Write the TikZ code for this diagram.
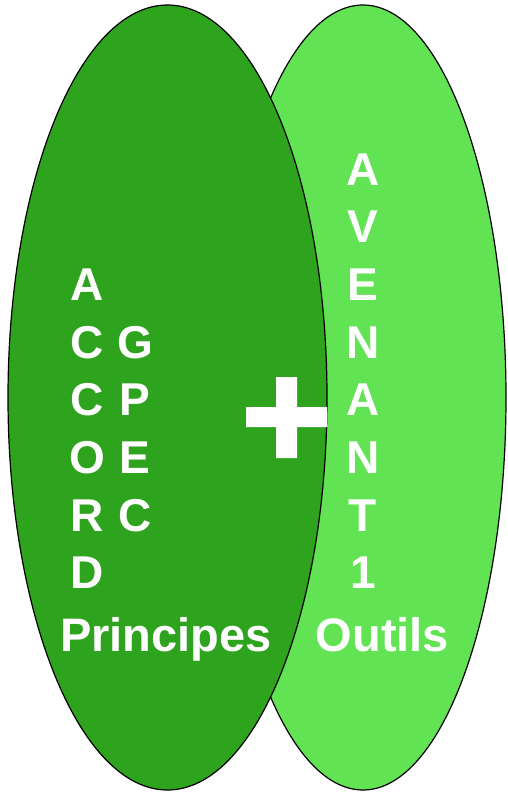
\documentclass[tikz,border=0pt]{standalone}
\usepackage{fontspec}
\setmainfont{Liberation Sans}
\definecolor{darkg}{RGB}{46,163,30}
\definecolor{lightg}{RGB}{98,227,84}
\begin{document}
\begin{tikzpicture}[x=1pt,y=-1pt,
  lett/.style={text=white,font=\bfseries\fontsize{46}{46}\selectfont,anchor=base,inner sep=0pt},
  lab/.style={lett,font=\bfseries\fontsize{47}{47}\selectfont},
  ell/.style={draw=black,line width=1.2pt}]
\useasboundingbox (0,0) rectangle (508,793);
\path[ell,fill=lightg] (363,397.5) ellipse [x radius=143, y radius=392.5];
\path[ell,fill=darkg] (167.5,397.5) ellipse [x radius=159.5, y radius=392.5];
% plus
\fill[white] (276,377) -- (297,377) -- (297,407) -- (327,407) -- (327,427) -- (297,427) -- (297,458) -- (276,458) -- (276,427) -- (246,427) -- (246,407) -- (276,407) -- cycle;
% left columns
\foreach \t [count=\i from 2] in {A,C,C,O,R,D} {
  \node[lett] (l\i) at (87,{185+57.7*\i}) {\t};
}
\foreach \t [count=\i from 3] in {G,P,E,C} {
  \node[lett] (m\i) at (135,{185+57.7*\i}) {\t};
}
\foreach \t [count=\i from 0] in {A,V,E,N,A,N,T,1} {
  \node[lett] (r\i) at (363,{185+57.7*\i}) {\t};
}
\node[lab] (princ) at (166,651) {Principes};
\node[lab] (outils) at (382.5,651) {Outils};
\end{tikzpicture}
\end{document}
